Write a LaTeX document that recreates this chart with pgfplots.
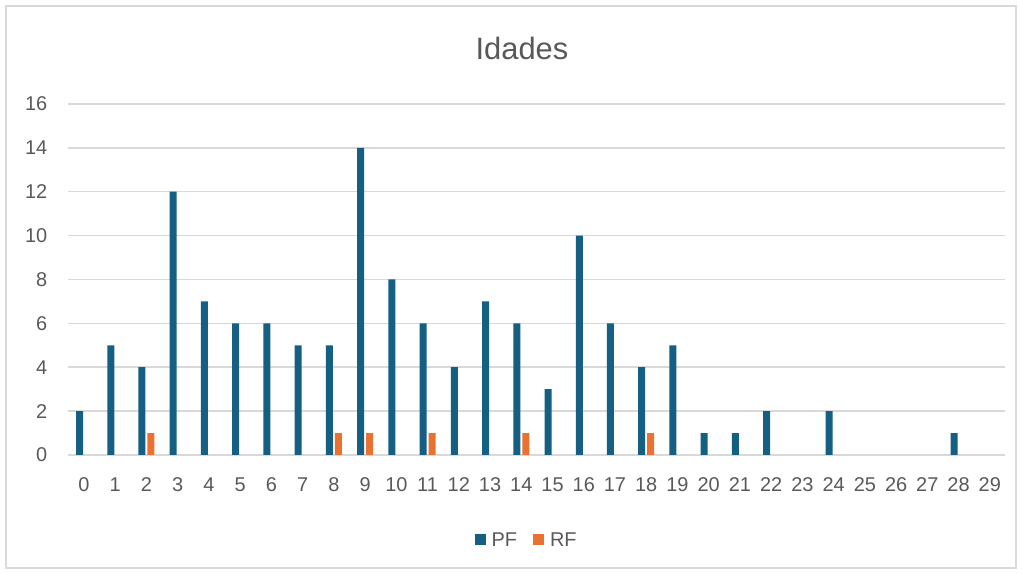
\documentclass[border=0pt]{standalone}
\usepackage{fontspec}
\setmainfont{Liberation Sans}
\usepackage{pgfplots}
\pgfplotsset{compat=1.18}
\definecolor{pf}{HTML}{156082}
\definecolor{rf}{HTML}{E97132}
\definecolor{txt}{HTML}{595959}
\definecolor{grd}{HTML}{D9D9D9}
\begin{document}
\begin{tikzpicture}
\path (0bp,0bp) rectangle (1022bp,574bp);
\draw[grd, line width=1.5bp] (6bp,6bp) rectangle (1016bp,568bp);
\node[txt, font=\fontsize{31}{36}\selectfont] at (522bp,526bp) {Idades};
\begin{axis}[
  at={(68.4bp,119bp)}, anchor=south west,
  scale only axis, width=937bp, height=351bp,
  ybar=2bp, bar width=7bp,
  xmin=-0.5, xmax=29.5, ymin=0, ymax=16,
  xtick={0,...,29}, ytick={0,2,...,16},
  axis line style={draw=none},
  major tick length=0pt,
  ymajorgrids, grid style={grd, line width=1.5bp},
  tick label style={txt, font=\fontsize{20}{24}\selectfont},
  /pgf/number format/assume math mode=true,
  xticklabel style={anchor=base, inner sep=0pt, yshift=-37bp},
  yticklabel style={anchor=east, inner sep=0pt, xshift=-21bp},
  legend style={at={(0.489,-0.242)}, anchor=center, draw=none, fill=none,
    legend columns=2, font=\fontsize{20}{24}\selectfont, text=txt,
    /tikz/every odd column/.append style={column sep=4bp},
    /tikz/every even column/.append style={column sep=14bp}},
  legend image code/.code={\fill[#1] (0bp,-5.5bp) rectangle (11bp,5.5bp);},
  clip=false,
]
\addplot[fill=pf, draw=none] coordinates {
 (0,2) (1,5) (2,4) (3,12) (4,7) (5,6) (6,6) (7,5) (8,5) (9,14)
 (10,8) (11,6) (12,4) (13,7) (14,6) (15,3) (16,10) (17,6) (18,4) (19,5)
 (20,1) (21,1) (22,2) (24,2) (28,1)};
\addplot[fill=rf, draw=none] coordinates {
 (2,1) (8,1) (9,1) (11,1) (14,1) (18,1)};
\legend{PF, RF}
\end{axis}
\end{tikzpicture}
\end{document}
